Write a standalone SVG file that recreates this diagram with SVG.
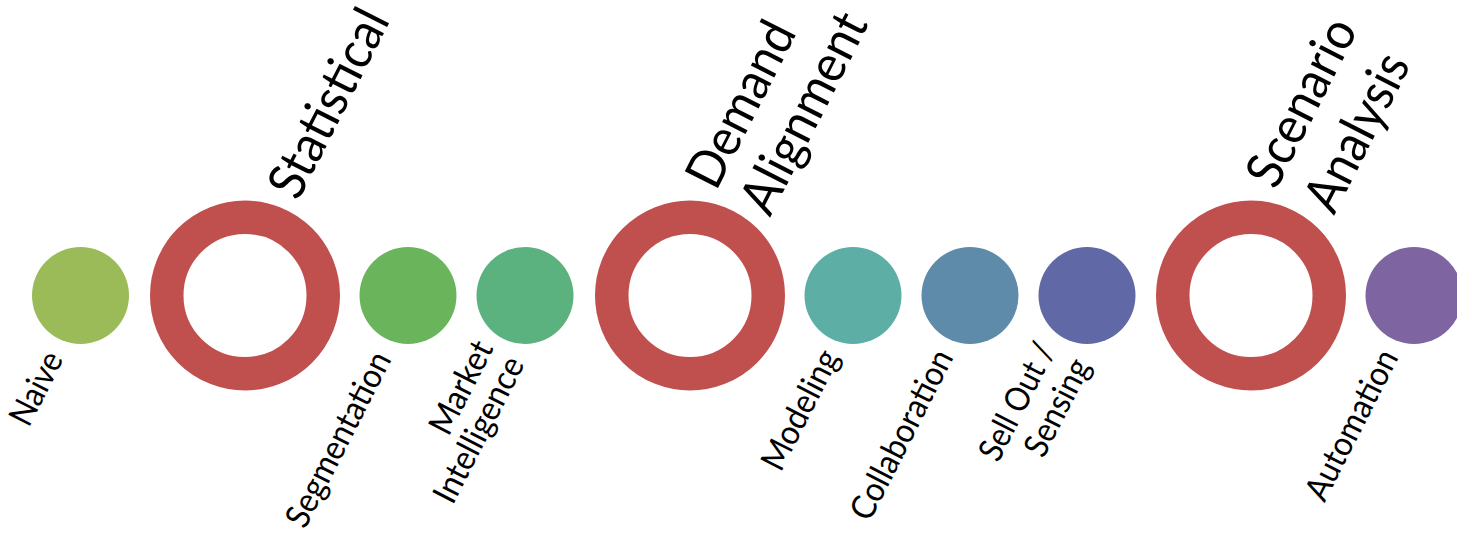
<svg xmlns="http://www.w3.org/2000/svg" width="1457" height="533" viewBox="0 0 1457 533">
<style>
.lbl{font-family:Lato,"Open Sans","Liberation Sans",sans-serif;font-size:34px;fill:#000;text-anchor:end}
.big{font-family:Lato,"Open Sans","Liberation Sans",sans-serif;font-size:52px;fill:#000}
.ring{fill:none;stroke:#C0504D;stroke-width:33.5}
</style>
<rect width="1457" height="533" fill="#fff"/>
<g id="connectors"></g>
<g id="naive"><circle cx="80.5" cy="295.5" r="48.5" fill="#9BBB59"/><text class="lbl" textLength="77.8" lengthAdjust="spacingAndGlyphs" transform="translate(64,359) rotate(-63)">Naive</text></g>
<g id="statistical"><circle class="ring" cx="245" cy="295.5" r="78.25"/><text class="big" textLength="204" lengthAdjust="spacingAndGlyphs" transform="translate(298,202) rotate(-63)">Statistical</text></g>
<g id="segmentation"><circle cx="408" cy="295.5" r="48.5" fill="#6AB55C"/><text class="lbl" textLength="191.8" lengthAdjust="spacingAndGlyphs" transform="translate(392,359) rotate(-63)">Segmentation</text></g>
<g id="market"><circle cx="525" cy="295.5" r="48.5" fill="#5BB27E"/><text class="lbl" textLength="100.3" lengthAdjust="spacingAndGlyphs" transform="translate(494,348) rotate(-63)">Market</text><text class="lbl" textLength="159.1" lengthAdjust="spacingAndGlyphs" transform="translate(525,364) rotate(-63)">Intelligence</text></g>
<g id="demand"><circle class="ring" cx="690" cy="295.5" r="78.25"/><text class="big" textLength="179" lengthAdjust="spacingAndGlyphs" transform="translate(716,192) rotate(-63)">Demand</text><text class="big" textLength="218" lengthAdjust="spacingAndGlyphs" transform="translate(770,218) rotate(-63)">Alignment</text></g>
<g id="modeling"><circle cx="853" cy="295.5" r="48.5" fill="#5DAFA6"/><text class="lbl" textLength="130.3" lengthAdjust="spacingAndGlyphs" transform="translate(840,357) rotate(-63)">Modeling</text></g>
<g id="collaboration"><circle cx="970" cy="295.5" r="48.5" fill="#5E8BA9"/><text class="lbl" textLength="186.1" lengthAdjust="spacingAndGlyphs" transform="translate(954,357) rotate(-63)">Collaboration</text></g>
<g id="sellout"><circle cx="1087" cy="295.5" r="48.5" fill="#6168A6"/><text class="lbl" textLength="127.4" lengthAdjust="spacingAndGlyphs" transform="translate(1056,350) rotate(-63)">Sell Out /</text><text class="lbl" textLength="104.6" lengthAdjust="spacingAndGlyphs" transform="translate(1091,366) rotate(-63)">Sensing</text></g>
<g id="scenario"><circle class="ring" cx="1251" cy="295.5" r="78.25"/><text class="big" textLength="181.5" lengthAdjust="spacingAndGlyphs" transform="translate(1276,191) rotate(-63)">Scenario</text><text class="big" textLength="170" lengthAdjust="spacingAndGlyphs" transform="translate(1334,216) rotate(-63)">Analysis</text></g>
<g id="automation"><circle cx="1414" cy="295.5" r="48.5" fill="#7F64A2"/><text class="lbl" textLength="164.1" lengthAdjust="spacingAndGlyphs" transform="translate(1399,357) rotate(-63)">Automation</text></g>
</svg>
